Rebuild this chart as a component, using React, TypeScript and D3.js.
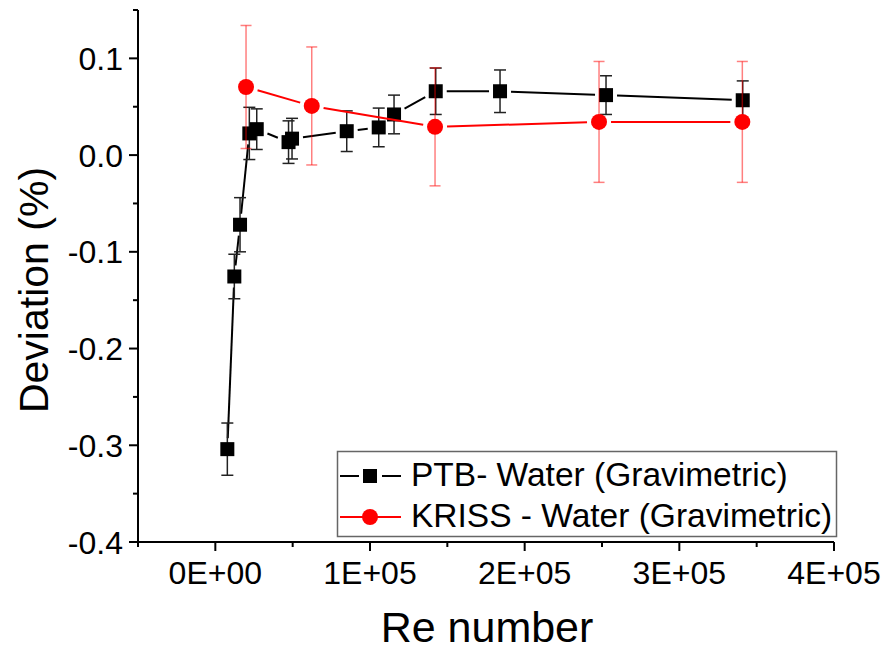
import React from "react";
import * as d3 from "d3";

const ptbRe = [7760, 12280, 15970, 21980, 26770, 47330, 49590, 84950, 105640, 115540, 142500, 184070, 252600, 340990];
const ptbDev = [-0.304, -0.1255, -0.072, 0.0224, 0.0268, 0.0134, 0.017, 0.0247, 0.0286, 0.042, 0.066, 0.066, 0.062, 0.0567];
const ptbErr = [0.027, 0.023, 0.028, 0.027, 0.021, 0.022, 0.021, 0.021, 0.02, 0.02, 0.024, 0.022, 0.02, 0.02];

const krissRe = [19850, 62330, 142050, 248080, 340730];
const krissDev = [0.0704, 0.0508, 0.0292, 0.0343, 0.0343];
const krissErr = [0.0636, 0.061, 0.061, 0.0625, 0.0625];

const xTicks = [0, 100000, 200000, 300000, 400000];
const xTickLabels = ["0E+00", "1E+05", "2E+05", "3E+05", "4E+05"];
const yTicks = [-0.4, -0.3, -0.2, -0.1, 0.0, 0.1];
const yTickLabels = ["-0.4", "-0.3", "-0.2", "-0.1", "0.0", "0.1"];
const legendLabels = ["PTB- Water (Gravimetric)", "KRISS - Water (Gravimetric)"];

const FONT = "'Liberation Sans', Arial, sans-serif";

export default function App() {
  const x = d3.scaleLinear().domain([-50000, 400000]).range([138, 834]);
  const y = d3.scaleLinear().domain([-0.4, 0.15]).range([542, 10]);

  const xMinor = d3.range(-50000, 400001, 50000).filter((v) => Math.abs(v % 100000) > 1);
  const yMinor = d3.range(-0.35, 0.151, 0.1);

  const ptb = ptbRe.map((r, i) => ({ px: x(r), py: y(ptbDev[i]), e: ptbErr[i], v: ptbDev[i] }));
  const kr = krissRe.map((r, i) => ({ px: x(r), py: y(krissDev[i]), e: krissErr[i], v: krissDev[i] }));

  const segs = (pts: { px: number; py: number }[], trim: (ux: number, uy: number) => number) => {
    const out: { x1: number; y1: number; x2: number; y2: number }[] = [];
    for (let i = 0; i < pts.length - 1; i++) {
      const a = pts[i], b = pts[i + 1];
      const dx = b.px - a.px, dy = b.py - a.py;
      const len = Math.hypot(dx, dy);
      const ux = dx / len, uy = dy / len;
      const t = trim(ux, uy);
      if (len > 2 * t) {
        out.push({ x1: a.px + ux * t, y1: a.py + uy * t, x2: b.px - ux * t, y2: b.py - uy * t });
      }
    }
    return out;
  };
  const sqTrim = (ux: number, uy: number) => 7 / Math.max(Math.abs(ux), Math.abs(uy)) + 4;
  const ptbSegs = segs(ptb, sqTrim);
  const krSegs = segs(kr, () => 12);

  return (
    <svg width={887} height={650} style={{ position: "absolute", left: 0, top: 0, background: "#fff" }} fontFamily={FONT}>
      {/* axes */}
      <g stroke="#000" strokeWidth={2} fill="none">
        <line x1={138} y1={y(0.15)} x2={138} y2={542} />
        <line x1={138} y1={542} x2={x(400000)} y2={542} />
        {yTicks.map((t) => (
          <line key={"yt" + t} x1={129} x2={138} y1={y(t)} y2={y(t)} />
        ))}
        {yMinor.map((t) => (
          <line key={"ym" + t} x1={133} x2={138} y1={y(t)} y2={y(t)} />
        ))}
        {xTicks.map((t) => (
          <line key={"xt" + t} x1={x(t)} x2={x(t)} y1={542} y2={551} />
        ))}
        {xMinor.map((t) => (
          <line key={"xm" + t} x1={x(t)} x2={x(t)} y1={542} y2={547} />
        ))}
      </g>
      <g fontSize={32} fill="#000">
        {yTicks.map((t, i) => (
          <text key={"yl" + t} x={123} y={y(t) + 11.5} textAnchor="end">
            {yTickLabels[i]}
          </text>
        ))}
        {xTicks.map((t, i) => (
          <text key={"xl" + t} x={x(t)} y={584} textAnchor="middle">
            {xTickLabels[i]}
          </text>
        ))}
      </g>
      <text x={487} y={642} fontSize={43} textAnchor="middle">Re number</text>
      <text transform="translate(48,290) rotate(-90)" fontSize={41} textAnchor="middle">Deviation (%)</text>

      {/* PTB series */}
      <g stroke="#000" strokeWidth={2}>
        {ptbSegs.map((s, i) => (
          <line key={"ps" + i} {...s} />
        ))}
      </g>
      <g stroke="#222" strokeWidth={1.5}>
        {ptb.map((p, i) => {
          const t = y(p.v + p.e), b = y(p.v - p.e);
          return (
            <g key={"pe" + i}>
              <line x1={p.px} x2={p.px} y1={t} y2={b} />
              <line x1={p.px - 6} x2={p.px + 6} y1={t} y2={t} />
              <line x1={p.px - 6} x2={p.px + 6} y1={b} y2={b} />
            </g>
          );
        })}
      </g>
      <g fill="#000">
        {ptb.map((p, i) => (
          <rect key={"pm" + i} x={p.px - 7} y={p.py - 7} width={14} height={14} />
        ))}
      </g>

      {/* KRISS series */}
      <g stroke="#ff0000" strokeWidth={2}>
        {krSegs.map((s, i) => (
          <line key={"ks" + i} {...s} />
        ))}
      </g>
      <g stroke="#ff0000" strokeOpacity={0.5} strokeWidth={1.5}>
        {kr.map((p, i) => {
          const t = y(p.v + p.e), b = y(p.v - p.e);
          return (
            <g key={"ke" + i}>
              <line x1={p.px} x2={p.px} y1={t} y2={b} />
              <line x1={p.px - 5.5} x2={p.px + 5.5} y1={t} y2={t} />
              <line x1={p.px - 5.5} x2={p.px + 5.5} y1={b} y2={b} />
            </g>
          );
        })}
      </g>
      <g fill="#ff0000">
        {kr.map((p, i) => (
          <circle key={"km" + i} cx={p.px} cy={p.py} r={8} />
        ))}
      </g>

      {/* legend */}
      <rect x={337.5} y={451.5} width={499} height={85} fill="#fff" stroke="#666" strokeWidth={1.5} />
      <g>
        <line x1={340} x2={359} y1={476} y2={476} stroke="#000" strokeWidth={2} />
        <line x1={382} x2={401} y1={476} y2={476} stroke="#000" strokeWidth={2} />
        <rect x={363} y={469} width={14} height={14} fill="#000" />
        <text x={411} y={486} fontSize={33.5}>{legendLabels[0]}</text>
        <line x1={340} x2={401} y1={517} y2={517} stroke="#ff0000" strokeWidth={2} />
        <circle cx={370} cy={517} r={8} fill="#ff0000" />
        <text x={411} y={527} fontSize={33.5}>{legendLabels[1]}</text>
      </g>
    </svg>
  );
}
